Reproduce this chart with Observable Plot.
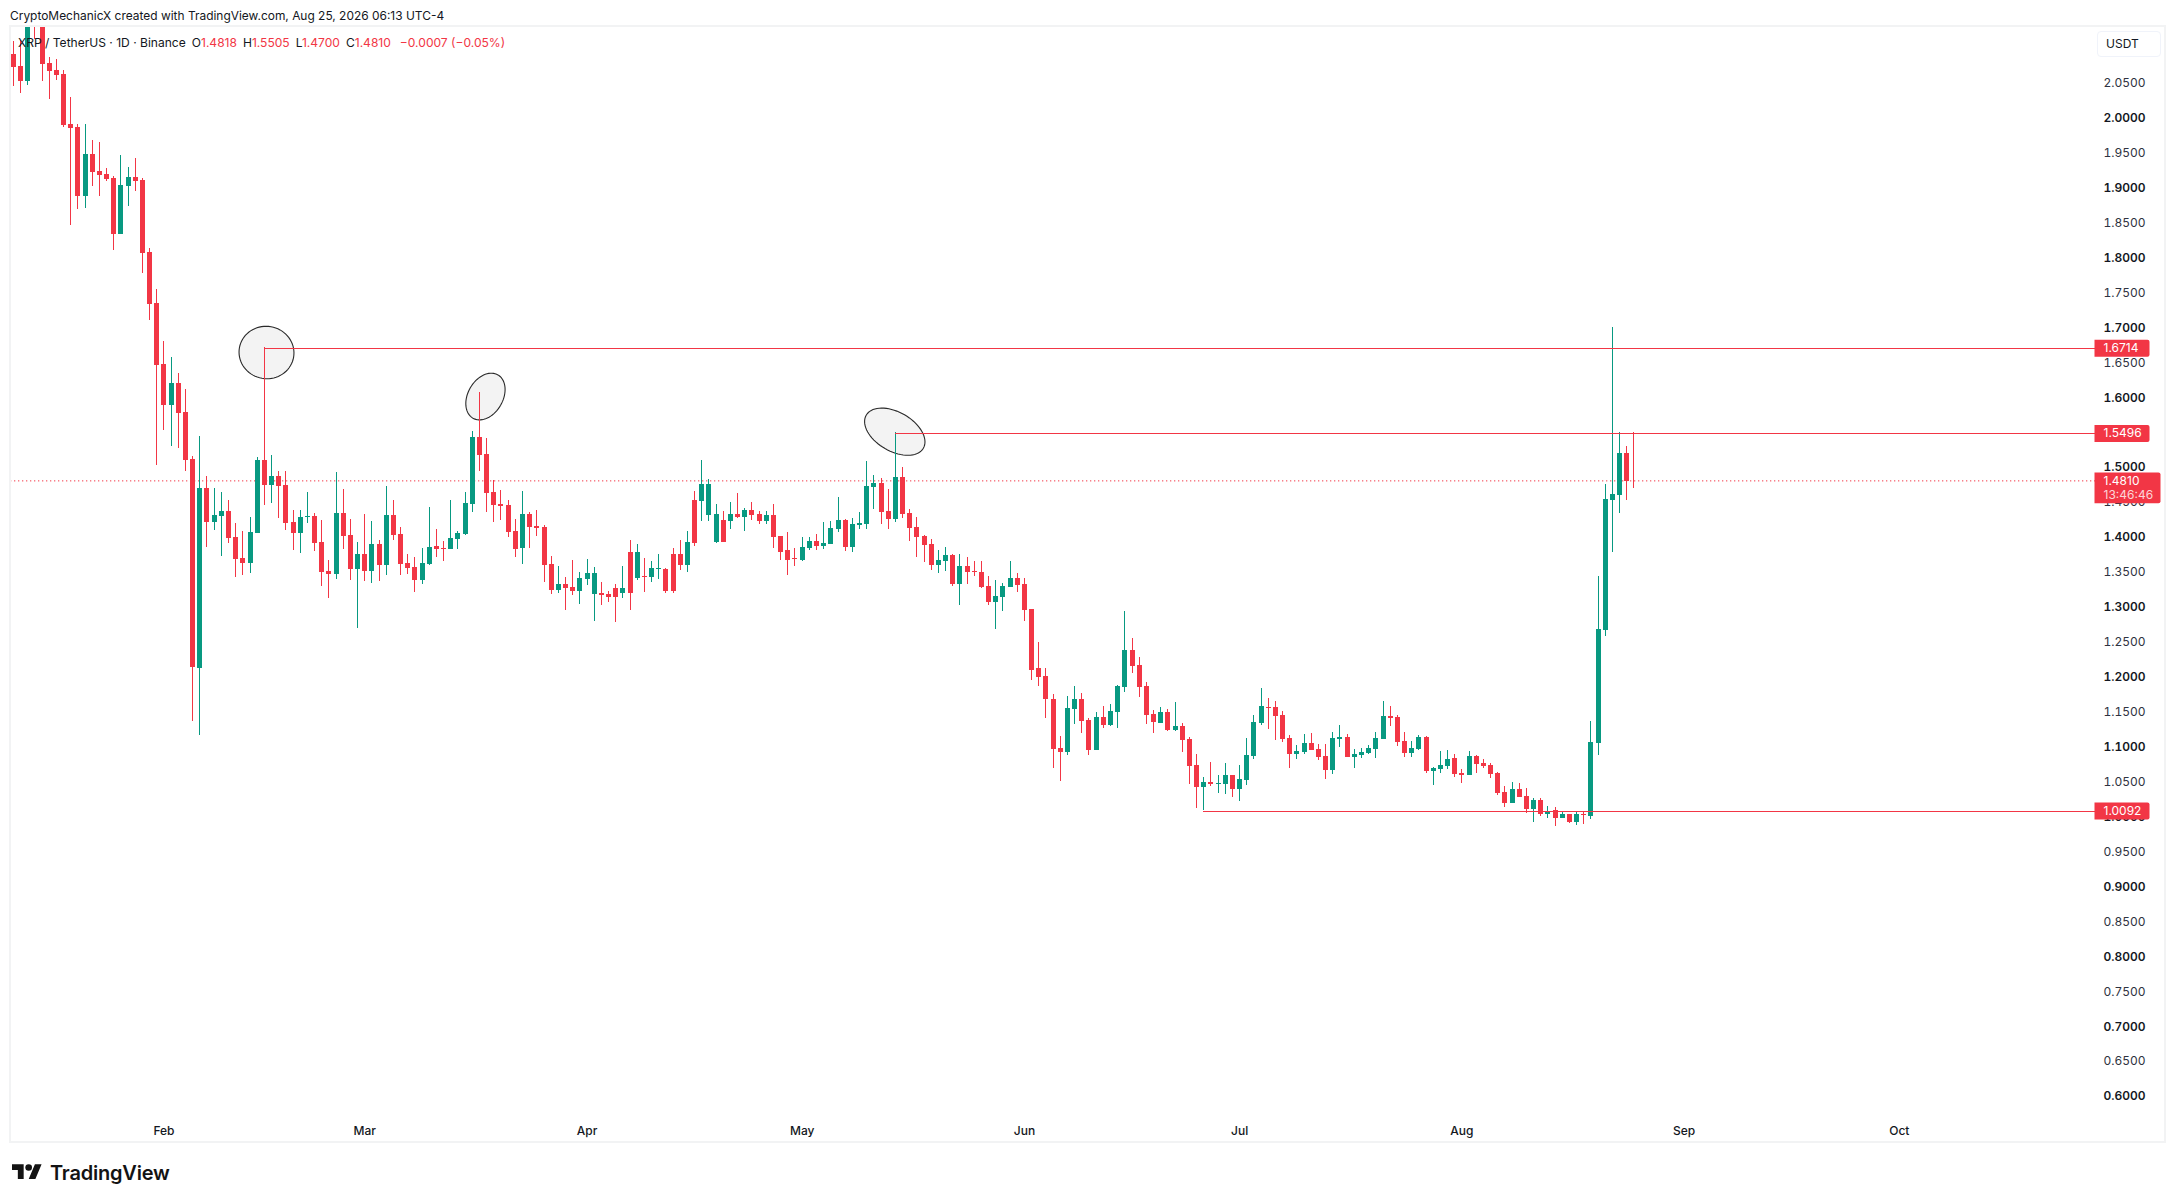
<!DOCTYPE html>
<html>
<head>
<meta charset="utf-8">
<script src="https://cdn.jsdelivr.net/npm/d3@7"></script>
<script src="https://cdn.jsdelivr.net/npm/@observablehq/plot@0.6"></script>
<style>
html,body{margin:0;padding:0;background:#fff;width:2175px;height:1202px;overflow:hidden;font-family:Inter,sans-serif;color:#131722}
.abs{position:absolute;white-space:nowrap}
#chart{position:absolute;left:0;top:26px}
#frame{position:absolute;left:9px;top:25px;width:2157px;height:1118px;box-sizing:border-box;border:2px solid #f2f3f4;pointer-events:none}
#credit{left:10px;top:8px;font-size:11.95px;line-height:16px}
#legend{left:18px;top:34px;font-size:12.05px;line-height:17px}
#legend b{font-weight:400;color:#f23645}
#legend span{margin-left:6px}
#legend span:last-child{margin-left:9px}
#unit{left:2097px;top:31px;width:64px;height:26px;box-sizing:border-box;border:1px solid #f0f3fa;border-radius:4px;font-size:12px;line-height:23px;padding-left:8px}
#brand{left:50px;top:1159px;font-size:20px;line-height:28px;font-weight:600;letter-spacing:-.2px;color:#131313}
#logo{left:12px;top:1164px}
</style>
</head>
<body>
<div id="chart"></div>
<div id="frame"></div>
<div class="abs" id="credit">CryptoMechanicX created with TradingView.com, Aug 25, 2026 06:13 UTC-4</div>
<div class="abs" id="legend">XRP / TetherUS · 1D · Binance<span>O<b>1.4818</b></span><span>H<b>1.5505</b></span><span>L<b>1.4700</b></span><span>C<b>1.4810</b></span><span><b>−0.0007 (−0.05%)</b></span></div>
<div class="abs" id="unit">USDT</div>
<svg class="abs" id="logo" width="30" height="15.3" viewBox="0 4 36 18"><path fill="#131313" d="M14 22H7V11H0V4h14v18zM28 22h-8l7.5-18h8L28 22z"/><circle fill="#131313" cx="20" cy="8" r="4"/></svg>
<div class="abs" id="brand">TradingView</div>
<script>
const firstDay = "2026-01-11";
const direction = "rrgrrrrrrrgrrrrggrrr" + "rrgrrrgrggrrrggrgrrr" + "ggrrrgrrgrgrgrrrrggr" + "rggggrrrrrrgrrrrgrrg" + "ggrrrgrgrggrrrgrgggr"
  + "grgrrgrrrrggrgggrggg" + "grrgrrrrrggrgrrrrggg" + "rrrrrrrggrrgrgggrrrr" + "grgrrrgrggrggggrrrrg" + "grrrggrgggggrrrggrgg" + "grrgrrrrrgrrgrgrgrgr" + "gggggrr";
const bodyHigh = [
2.0911,2.0740,2.16,2.165,2.14,2.0782,2.0682,2.0625,1.9910,1.9867,1.9480,1.9480,1.9237,1.9194,1.9137,1.9037,1.9151,1.9151,1.9108,1.8078,
1.7348,1.6475,1.6203,1.6203,1.5788,1.5116,1.4701,1.4701,1.4314,1.4372,1.4372,1.4000,1.3699,1.4071,1.5101,1.5101,1.4872,1.4872,1.4744,1.4214,
1.4286,1.4300,1.4300,1.3928,1.3513,1.4343,1.4343,1.4028,1.3756,1.3756,1.3899,1.3899,1.4314,1.4314,1.4042,1.3627,1.3570,1.3627,1.3856,1.3871,
1.3842,1.3985,1.4057,1.4486,1.5431,1.5431,1.5187,1.4643,1.4472,1.4457,1.4085,1.4329,1.4329,1.4157,1.4143,1.3613,1.3327,1.3327,1.3284,1.3413,
1.3484,1.3484,1.3198,1.3184,1.3270,1.3270,1.3785,1.3785,1.3441,1.3556,1.3556,1.3541,1.3756,1.3756,1.3928,1.4529,1.4758,1.4758,1.4328,1.4243,
1.4328,1.4328,1.4386,1.4386,1.4328,1.4314,1.4314,1.4014,1.3813,1.3699,1.3856,1.3942,1.3942,1.3913,1.4128,1.4243,1.4243,1.4185,1.4200,1.4729,
1.4772,1.4772,1.4371,1.4858,1.4858,1.4343,1.4142,1.4014,1.3899,1.3670,1.3742,1.3742,1.3584,1.3584,1.3513,1.3498,1.3298,1.3155,1.3298,1.3413,
1.3413,1.3327,1.2969,1.2125,1.2010,1.1681,1.0980,1.1552,1.1681,1.1681,1.1381,1.1424,1.1424,1.1509,1.1867,1.2382,1.2382,1.2168,1.1867,1.1466,
1.1495,1.1495,1.1295,1.1295,1.1109,1.0737,1.0493,1.0493,1.0479,1.0594,1.0594,1.0536,1.0880,1.1352,1.1581,1.1567,1.1567,1.1452,1.1123,1.0937,
1.1051,1.1051,1.0966,1.0865,1.1123,1.1137,1.1137,1.0894,1.0923,1.0980,1.1123,1.1438,1.1438,1.1424,1.1080,1.0980,1.1137,1.1137,1.0694,1.0737,
1.0823,1.0837,1.0622,1.0865,1.0865,1.0765,1.0737,1.0622,1.0351,1.0394,1.0394,1.0294,1.0237,1.0237,1.0079,1.0093,1.0036,1.0036,1.0036,1.0036,
1.1066,1.2683,1.4541,1.4615,1.5202,1.5202,1.4818];
const bodyLow = [
2.0730,2.0530,2.0530,2.14,2.0768,2.0668,2.0611,1.9895,1.9852,1.8879,1.8879,1.9223,1.9180,1.9122,1.8335,1.8335,1.9022,1.9094,1.8064,1.7334,
1.6461,1.5888,1.5888,1.5774,1.5101,1.2139,1.2125,1.4214,1.4214,1.4300,1.3985,1.3685,1.3627,1.3627,1.4057,1.4744,1.4744,1.4729,1.4200,1.4057,
1.4057,1.4286,1.3914,1.3499,1.3470,1.3470,1.4014,1.3542,1.3542,1.3513,1.3513,1.3599,1.3599,1.4028,1.3613,1.3556,1.3384,1.3384,1.3613,1.3828,
1.3828,1.3828,1.3971,1.4042,1.4472,1.5173,1.4629,1.4457,1.4443,1.4071,1.3828,1.3842,1.4143,1.4128,1.3599,1.3241,1.3241,1.3270,1.3227,1.3227,
1.3399,1.3184,1.3170,1.3141,1.3141,1.3198,1.3198,1.3413,1.3427,1.3427,1.3541,1.3227,1.3227,1.3599,1.3599,1.3913,1.4514,1.4314,1.3928,1.3928,
1.4228,1.4286,1.4286,1.4314,1.4228,1.4228,1.3999,1.3785,1.3670,1.3684,1.3670,1.3842,1.3871,1.3871,1.3899,1.4114,1.3856,1.3856,1.4171,1.4185,
1.4715,1.4357,1.4257,1.4257,1.4328,1.4128,1.3999,1.3885,1.3599,1.3599,1.3656,1.3327,1.3327,1.3498,1.3498,1.3284,1.3069,1.3069,1.3141,1.3284,
1.3313,1.2955,1.2096,1.1996,1.1681,1.0966,1.0923,1.0923,1.1538,1.1366,1.0951,1.0951,1.1309,1.1309,1.1495,1.1853,1.2153,1.1853,1.1452,1.1352,
1.1338,1.1238,1.1238,1.1094,1.0722,1.0422,1.0422,1.0465,1.0465,1.0465,1.0393,1.0393,1.0522,1.0865,1.1338,1.1552,1.1438,1.1109,1.0894,1.0894,
1.0923,1.0951,1.0851,1.0665,1.0665,1.1109,1.0851,1.0851,1.0880,1.0908,1.0966,1.1109,1.1409,1.1066,1.0908,1.0908,1.0966,1.0651,1.0651,1.0679,
1.0722,1.0608,1.0593,1.0593,1.0751,1.0722,1.0608,1.0336,1.0194,1.0194,1.0279,1.0108,1.0108,1.0036,1.0036,.9979,.9979,.9922,.9922,1.0022,
1.0008,1.1051,1.2668,1.4527,1.4601,1.4803,1.4810];
const highs = [
2.1097,2.1112,2.19,2.20,2.17,2.0873,2.0835,2.0682,2.0296,1.9910,1.9910,1.9681,1.9652,1.9280,1.9165,1.9466,1.9294,1.9423,1.9137,1.8135,
1.7548,1.6804,1.6575,1.6346,1.6117,1.5159,1.5445,1.4872,1.4701,1.4643,1.4529,1.4200,1.4085,1.4286,1.5144,1.6714,1.5173,1.4944,1.4944,1.4386,
1.4386,1.4643,1.4343,1.4243,1.3670,1.4930,1.4686,1.4257,1.3928,1.4329,1.4229,1.3957,1.4729,1.4529,1.4143,1.3756,1.3713,1.3842,1.4429,1.4114,
1.3942,1.4529,1.4085,1.4643,1.5516,1.6074,1.5416,1.4815,1.4672,1.4529,1.4257,1.4658,1.4357,1.4386,1.4171,1.3728,1.3584,1.3427,1.3670,1.3499,
1.3685,1.3570,1.3356,1.3227,1.3327,1.3584,1.3957,1.3899,1.3699,1.3656,1.3756,1.3556,1.3842,1.3956,1.4085,1.4658,1.5101,1.4829,1.4472,1.4371,
1.4500,1.4629,1.4414,1.4500,1.4371,1.4371,1.4472,1.4014,1.4071,1.3842,1.4000,1.4000,1.4042,1.4214,1.4228,1.4572,1.4257,1.4271,1.4357,1.5087,
1.4887,1.4844,1.4686,1.5496,1.5001,1.4400,1.4286,1.4028,1.3971,1.3813,1.3856,1.3756,1.3756,1.3713,1.3656,1.3656,1.3441,1.3384,1.3341,1.3656,
1.3484,1.3413,1.2969,1.2497,1.2125,1.1753,1.1152,1.1724,1.1867,1.1767,1.1409,1.1495,1.1581,1.1610,1.1881,1.2940,1.2554,1.2282,1.1924,1.1524,
1.1567,1.1538,1.1638,1.1338,1.1137,1.0894,1.0565,1.0780,1.0594,1.0765,1.0594,1.0737,1.1123,1.1452,1.1839,1.1695,1.1653,1.1509,1.1166,1.1023,
1.1180,1.1195,1.1037,1.1037,1.1209,1.1309,1.1180,1.0966,1.0980,1.1023,1.1209,1.1653,1.1581,1.1452,1.1209,1.1080,1.1166,1.1152,1.0708,1.0937,
1.0951,1.0894,1.0679,1.0937,1.0880,1.0823,1.0765,1.0636,1.0437,1.0494,1.0480,1.0408,1.0265,1.0265,1.0151,1.0136,1.0079,1.0036,1.0079,1.0065,
1.1367,1.3442,1.4758,1.7006,1.5496,1.5301,1.5505];
const lows = [
2.0453,2.0358,2.0472,2.1121,2.0530,2.0267,2.0539,1.9867,1.8464,1.8693,1.8708,1.9022,1.8879,1.9094,1.8106,1.8335,1.8736,1.8951,1.7777,1.7105,
1.5030,1.5531,1.5302,1.5273,1.4944,1.1366,1.1166,1.3857,1.4100,1.3728,1.3914,1.3427,1.3456,1.3484,1.4057,1.4457,1.4486,1.4271,1.4100,1.3813,
1.3771,1.4200,1.3799,1.3298,1.3127,1.3399,1.3828,1.3384,1.2697,1.3370,1.3341,1.3370,1.3456,1.3957,1.3456,1.3470,1.3212,1.3327,1.3599,1.3713,
1.3656,1.3828,1.3828,1.4028,1.4357,1.4944,1.4357,1.4214,1.4243,1.3999,1.3713,1.3613,1.3842,1.4014,1.3356,1.3184,1.3198,1.2955,1.3170,1.3041,
1.3313,1.2798,1.3026,1.3069,1.2783,1.3127,1.2955,1.3384,1.3212,1.3355,1.3398,1.3198,1.3198,1.3527,1.3498,1.3871,1.4228,1.4228,1.3913,1.3928,
1.4114,1.4271,1.4085,1.4243,1.4185,1.4185,1.3842,1.3670,1.3456,1.3584,1.3656,1.3813,1.3813,1.3828,1.3899,1.4071,1.3799,1.3785,1.4114,1.4114,
1.4400,1.4185,1.4114,1.4214,1.4271,1.3942,1.3713,1.3642,1.3527,1.3484,1.3513,1.3298,1.3026,1.3327,1.3441,1.3270,1.3026,1.2683,1.2940,1.3284,
1.3212,1.2797,1.1953,1.1867,1.1409,1.0694,1.0508,1.0880,1.1323,1.1195,1.0880,1.0951,1.1266,1.1295,1.1266,1.1781,1.2053,1.1710,1.1323,1.1195,
1.1338,1.1223,1.1223,1.0923,1.0465,1.0121,1.0092,1.0436,1.0336,1.0322,1.0279,1.0222,1.0450,1.0822,1.1309,1.1252,1.1094,1.1066,1.0694,1.0822,
1.0894,1.0951,1.0808,1.0536,1.0608,1.0994,1.0851,1.0694,1.0837,1.0894,1.0837,1.1109,1.1295,1.1008,1.0851,1.0851,1.0951,1.0622,1.0450,1.0622,
1.0679,1.0565,1.0479,1.0593,1.0622,1.0694,1.0551,1.0307,1.0136,1.0194,1.0279,1.0050,.9922,1.0008,.9979,.9864,.9979,.9907,.9879,.9893,
.9965,1.0878,1.2579,1.3782,1.4344,1.4527,1.4700];

const minorTicks = [0.65,0.75,0.85,0.95,1.05,1.15,1.25,1.35,1.45,1.55,1.65,1.75,1.85,1.95,2.05];
const majorTicks = [0.6,0.7,0.8,0.9,1.0,1.1,1.2,1.3,1.4,1.5,1.6,1.7,1.8,1.9,2.0];
const monthTicks = ["2026-02-01","2026-03-01","2026-04-01","2026-05-01","2026-06-01","2026-07-01","2026-08-01","2026-09-01","2026-10-01"].map(d => new Date(d));
const levelPrices = [1.6714, 1.5496, 1.0092];
const levelStarts = ["2026-02-15","2026-05-14","2026-06-26"].map(d => new Date(d));
const lastPrice = 1.4810;
const countdown = "13:46:46";
const xDomain = [new Date("2026-01-10T14:24Z"), new Date("2026-10-28T12:00Z")];
const yDomain = [0.5743, 2.1298];
const RED = "#f23645", GREEN = "#089981";

// annotation ellipses: centre in data space, shape in px
const ellipseDates = ["2026-02-15T07:12Z","2026-03-17T20:00Z","2026-05-13T22:00Z"].map(d => new Date(d));
const ellipsePrices = [1.6647, 1.6017, 1.5514];
const ellipseShapes = [[27.5,26.2,10],[25,17.5,-60],[33,19.5,30]];

const t0 = new Date(firstDay);
const candles = bodyHigh.map((b,i) => ({
  date: d3.utcDay.offset(t0, i),
  bodyHigh: b, bodyLow: bodyLow[i], high: highs[i], low: lows[i],
  dir: direction[i] === "g" ? "up" : "down"
}));
const ellipseSymbol = ([a,b,deg]) => ({draw(ctx){
  const th = deg*Math.PI/180, n = 72;
  for (let k=0;k<n;k++){
    const t = k/n*2*Math.PI, ex = a*Math.cos(t), ey = b*Math.sin(t);
    const x = ex*Math.cos(th)-ey*Math.sin(th), y = ex*Math.sin(th)+ey*Math.cos(th);
    k ? ctx.lineTo(x,y) : ctx.moveTo(x,y);
  }
  ctx.closePath();
}});
const boxSymbol = (w, top, bottom) => ({draw(ctx){
  const r = 2, l = -2;
  ctx.moveTo(l, top); ctx.lineTo(w-r, top); ctx.arcTo(w, top, w, top+r, r);
  ctx.lineTo(w, bottom-r); ctx.arcTo(w, bottom, w-r, bottom, r); ctx.lineTo(l, bottom); ctx.closePath();
}});
const price4 = d => d.toFixed(4);

const levels = levelPrices.map((p,i) => ({price:p, start:levelStarts[i], end:xDomain[1]}));
const chart = Plot.plot({
  width: 2175, height: 1116,
  marginLeft: 10, marginRight: 79, marginTop: 1, marginBottom: 28,
  x: {type:"utc", domain:xDomain},
  y: {domain:yDomain},
  color: {domain:["up","down"], range:[GREEN,RED]},
  style: {fontFamily:"Inter, sans-serif", fontSize:"12px", color:"#131722", background:"#fff", overflow:"visible"},
  marks: [
    Plot.axisY({anchor:"right", ticks:minorTicks, tickSize:0, tickPadding:7, tickFormat:price4, label:null, fill:"#2e3240"}),
    Plot.axisY({anchor:"right", ticks:majorTicks, tickSize:0, tickPadding:7, tickFormat:price4, label:null, fontWeight:600, fill:"#131722"}),
    Plot.axisX({ticks:monthTicks, tickSize:0, tickPadding:11.5, tickFormat:d3.utcFormat("%b"), label:null, fontWeight:500, fill:"#131722"}),
    ...ellipseDates.map((d,i) => Plot.dot([{date:d, price:ellipsePrices[i]}], {
      x:"date", y:"price", r:20, symbol:ellipseSymbol(ellipseShapes[i]), fill:"#f3f3f3", stroke:"#2a2a2a", strokeWidth:1.1})),
    Plot.ruleY([lastPrice], {stroke:RED, strokeWidth:1, strokeDasharray:"1.3 2.7"}),
    Plot.ruleX(candles, {x:"date", y1:"low", y2:"high", stroke:"dir", strokeWidth:1, clip:true, shapeRendering:"crispEdges"}),
    Plot.ruleX(candles, {x:"date", y1:"bodyLow", y2:"bodyHigh", stroke:"dir", strokeWidth:5, clip:true, shapeRendering:"crispEdges"}),
    Plot.ruleY(levels, {y:"price", x1:"start", x2:"end", stroke:RED, strokeWidth:1, dy:0.5, shapeRendering:"crispEdges"}),
    Plot.dot(levelPrices, {y:d=>d, frameAnchor:"right", r:10, symbol:boxSymbol(53,-8,9), fill:RED}),
    Plot.text(levelPrices, {y:d=>d, text:price4, frameAnchor:"right", textAnchor:"start", dx:7, dy:0.5, fill:"#fff"}),
    Plot.dot([lastPrice], {y:d=>d, frameAnchor:"right", r:10, symbol:boxSymbol(64,-8.5,22.3), fill:RED}),
    Plot.text([lastPrice], {y:d=>d, text:price4, frameAnchor:"right", textAnchor:"start", dx:7, dy:0.5, fill:"#fff"}),
    Plot.text([lastPrice], {y:d=>d, text:()=>countdown, frameAnchor:"right", textAnchor:"start", dx:7, dy:14.5, fill:"#fff", fillOpacity:.8})
  ]
});
document.getElementById("chart").appendChild(chart);
</script>
</body>
</html>
